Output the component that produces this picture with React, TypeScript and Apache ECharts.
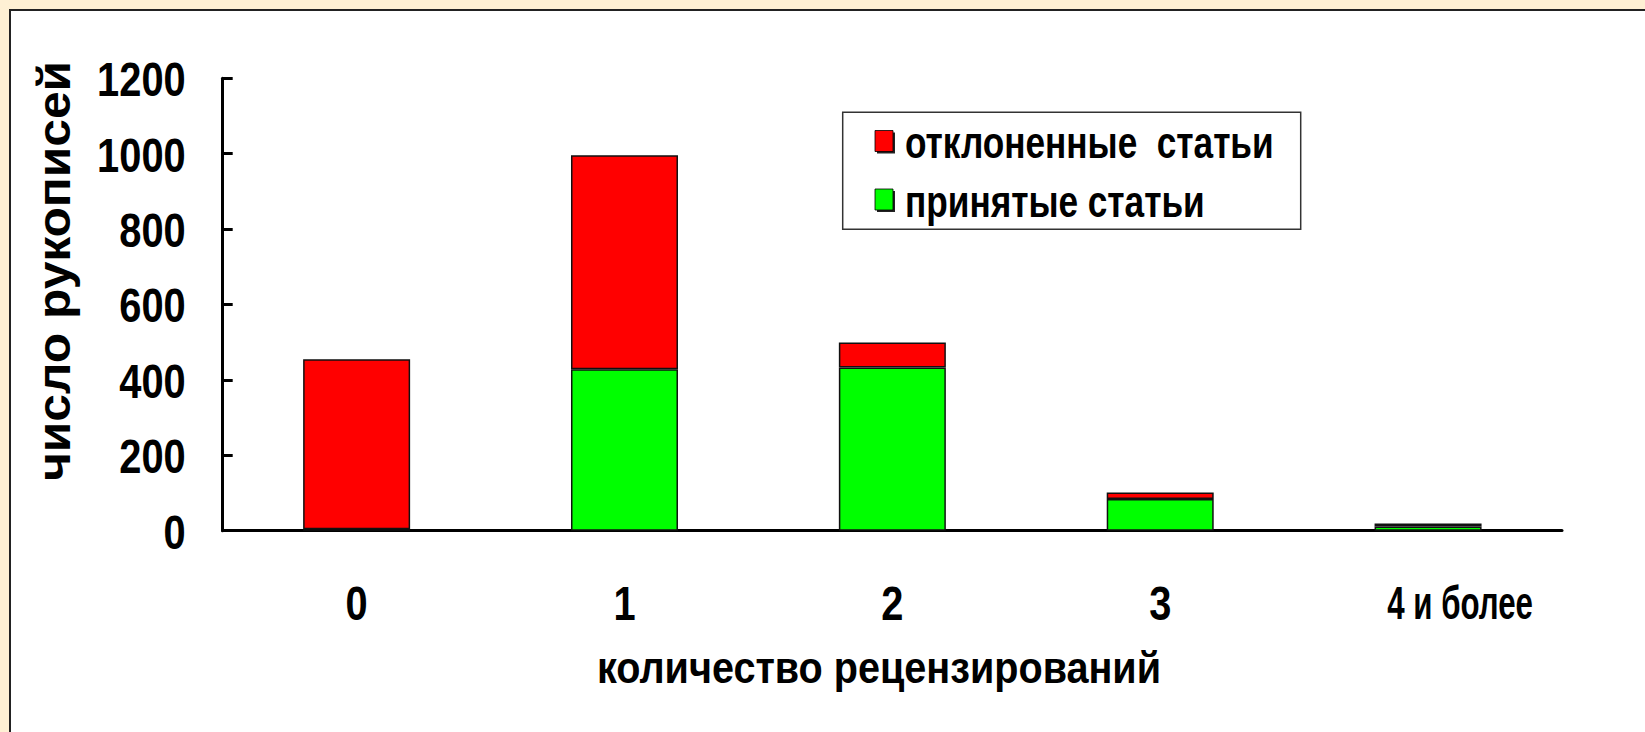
import React, { useEffect, useRef } from "react";
import * as echarts from "echarts";

const categories = ["0", "1", "2", "3", "4 и более"];
const accepted = [4, 428, 433, 84, 11];
const rejected = [451, 568, 66, 17, 8];
const yTicks = [0, 200, 400, 600, 800, 1000, 1200];
const seriesNames = ["отклоненные  статьи", "принятые статьи"];
const seriesColors = ["#FF0000", "#00FF00"];
const xTitle = "количество рецензирований";
const yTitle = "число рукописей";

const FONT = "'Liberation Sans', Arial, sans-serif";

export default function App() {
  const ref = useRef<HTMLDivElement>(null);
  useEffect(() => {
    const chart = echarts.init(ref.current!, null, { renderer: "svg" });
    chart.setOption({
      animation: false,
      backgroundColor: "#FEF0D4",
      textStyle: { fontFamily: FONT, fontWeight: "bold", color: "#000" },
      grid: { left: 222.7, right: 83, top: 78.3, bottom: 201.3, containLabel: false },
      xAxis: {
        type: "category",
        data: categories,
        axisLine: { lineStyle: { color: "#000", width: 3 } },
        axisTick: { show: false },
        axisLabel: { show: false },
        splitLine: { show: false },
      },
      yAxis: {
        type: "value",
        min: yTicks[0],
        max: yTicks[yTicks.length - 1],
        interval: 200,
        axisLine: { show: true, lineStyle: { color: "#000", width: 3 } },
        axisTick: { show: true, inside: true, length: 10, lineStyle: { color: "#000", width: 3 } },
        axisLabel: { show: false },
        splitLine: { show: false },
      },
      series: [
        {
          name: seriesNames[1],
          type: "bar",
          stack: "total",
          data: accepted,
          barWidth: 107,
          itemStyle: { color: seriesColors[1], borderColor: "#111", borderWidth: 1.5 },
        },
        {
          name: seriesNames[0],
          type: "bar",
          stack: "total",
          data: rejected,
          barWidth: 107,
          itemStyle: { color: seriesColors[0], borderColor: "#111", borderWidth: 1.5 },
        },
      ],
    });

    // Positions from the chart's own scales
    const c0 = chart.convertToPixel({ gridIndex: 0 }, [0, 0]) as number[];
    const c1 = chart.convertToPixel({ gridIndex: 0 }, [1, 0]) as number[];
    const band = c1[0] - c0[0];
    const axisX = c0[0] - band / 2;
    const axisY = c0[1];

    const txt = (text: string, x: number, y: number, size: number, sx: number, align: string, extra: any = {}) => ({
      type: "text",
      z: 100,
      x,
      y,
      scaleX: sx,
      silent: true,
      ...extra,
      style: {
        text,
        fontFamily: FONT,
        fontWeight: "bold",
        fontSize: size,
        fill: "#000",
        align,
        verticalAlign: "middle",
      },
    });

    const graphics: any[] = [
      {
        type: "rect",
        z: -10,
        silent: true,
        shape: { x: 10, y: 10, width: 1700, height: 800 },
        style: { fill: "#fff", stroke: "#222", lineWidth: 2 },
      },
    ];

    // y tick labels
    yTicks.forEach((v) => {
      const py = chart.convertToPixel({ yAxisIndex: 0 }, v) as number;
      graphics.push(txt(String(v), axisX - 37, py + 1, 48, 0.83, "right"));
    });

    // category labels
    categories.forEach((cat, i) => {
      const p = chart.convertToPixel({ gridIndex: 0 }, [i, 0]) as number[];
      const long = cat.length > 2;
      graphics.push(
        txt(cat, p[0] + (long ? 32 : 0), axisY + 72, long ? 46 : 48, long ? 0.68 : 0.83, "center")
      );
    });

    // axis titles
    graphics.push(txt(yTitle, 54, 271, 46, 1.08, "center", { rotation: Math.PI / 2 }));
    graphics.push(txt(xTitle, 879, 668, 44, 0.9, "center"));

    // legend box
    const lx = 842.7, ly = 112.3, lw = 458, lh = 117;
    graphics.push({
      type: "rect",
      z: 50,
      silent: true,
      shape: { x: lx, y: ly, width: lw, height: lh },
      style: { fill: "#fff", stroke: "#333", lineWidth: 1.5 },
    });
    const rowY = [142, 200.5];
    seriesNames.forEach((name, i) => {
      graphics.push({
        type: "rect",
        z: 51,
        silent: true,
        shape: { x: 877, y: rowY[i] - 9.5, width: 18, height: 21 },
        style: { fill: "#222" },
      });
      graphics.push({
        type: "rect",
        z: 52,
        silent: true,
        shape: { x: 875, y: rowY[i] - 11.5, width: 18, height: 21 },
        style: { fill: seriesColors[i], stroke: "#000", lineWidth: 0.8 },
      });
      graphics.push(txt(name, 905, rowY[i] + 1, 44, 0.8, "left"));
    });

    chart.setOption({ graphic: graphics });
    return () => chart.dispose();
  }, []);
  return (
    <div
      ref={ref}
      style={{ position: "fixed", left: 0, top: 0, width: 1645, height: 732 }}
    />
  );
}
